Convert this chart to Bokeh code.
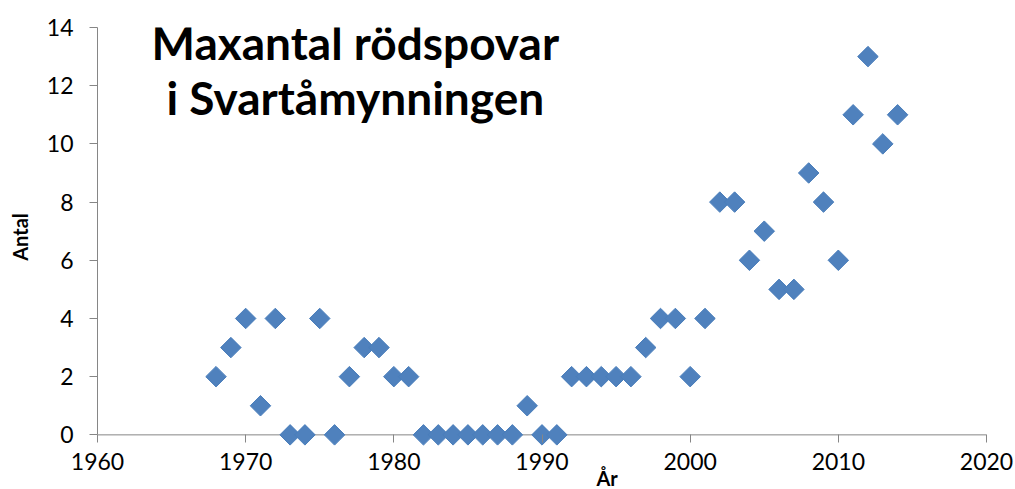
import math
from bokeh.plotting import figure
from bokeh.models import Range1d, FixedTicker, Label, Title, Span
from bokeh.embed import file_html
from bokeh.resources import INLINE

years = [1968, 1969, 1970, 1971, 1972, 1973, 1974, 1975, 1976, 1977, 1978, 1979,
         1980, 1981, 1982, 1983, 1984, 1985, 1986, 1987, 1988, 1989, 1990, 1991,
         1992, 1993, 1994, 1995, 1996, 1997, 1998, 1999, 2000, 2001, 2002, 2003,
         2004, 2005, 2006, 2007, 2008, 2009, 2010, 2011, 2012, 2013, 2014]
counts = [2, 3, 4, 1, 4, 0, 0, 4, 0, 2, 3, 3,
          2, 2, 0, 0, 0, 0, 0, 0, 0, 1, 0, 0,
          2, 2, 2, 2, 2, 3, 4, 4, 2, 4, 8, 8,
          6, 7, 5, 5, 9, 8, 6, 11, 13, 10, 11]
x_ticks = [1960, 1970, 1980, 1990, 2000, 2010, 2020]
y_ticks = [0, 2, 4, 6, 8, 10, 12, 14]
title_lines = ["Maxantal rödspovar", "i Svartåmynningen"]
x_title = "År"
y_title = "Antal"

FONT = "Lato"
AXIS_GRAY = "#868686"

# y range starts slightly below 0 so the diamonds at 0 are not clipped;
# the visible x-axis line is drawn at y = 0 with a Span.
p = figure(width=1015, height=489, output_backend="svg", toolbar_location=None,
           x_range=Range1d(1960, 2020), y_range=Range1d(-0.4, 14),
           min_border_left=97, min_border_right=29, min_border_top=27,
           min_border_bottom=43)
p.outline_line_color = None
p.xgrid.grid_line_color = None
p.ygrid.grid_line_color = None
p.background_fill_color = "white"
p.border_fill_color = "white"

for ax, ticks in ((p.xaxis[0], x_ticks), (p.yaxis[0], y_ticks)):
    ax.ticker = FixedTicker(ticks=ticks)
    ax.axis_line_color = AXIS_GRAY
    ax.major_tick_line_color = AXIS_GRAY
    ax.minor_tick_line_color = None
    ax.major_tick_out = 8
    ax.major_tick_in = 0
    ax.major_label_text_font = FONT
    ax.major_label_text_font_size = "23px"
    ax.major_label_text_color = "black"

# x axis sits at the frame bottom (y=-0.4); shift its ticks up to y=0
p.xaxis.axis_line_color = None
p.xaxis.major_tick_in = 12
p.xaxis.major_tick_out = -4
p.xaxis.major_label_standoff = 6
p.yaxis.bounds = (0, 14)
p.yaxis.major_label_standoff = 16

p.add_layout(Span(location=0, dimension="width", line_color=AXIS_GRAY,
                  line_width=1, level="underlay"))

p.yaxis.axis_label = y_title
p.yaxis.axis_label_text_font = FONT
p.yaxis.axis_label_text_font_style = "bold"
p.yaxis.axis_label_text_font_size = "20px"
p.yaxis.axis_label_text_color = "black"
p.yaxis.axis_label_standoff = 12

p.scatter(years, counts, marker="square", size=14.5, angle=math.pi / 4,
          fill_color="#4F81BD", line_color="#4A7EBB")

# Title inside plot area
p.add_layout(Label(x=1977.4, y=13.50, text=title_lines[0], text_align="center",
                   text_baseline="alphabetic", text_font=FONT, text_font_style="bold",
                   text_font_size="46px", text_color="black"))
p.add_layout(Label(x=1977.4, y=11.61, text=title_lines[1], text_align="center",
                   text_baseline="alphabetic", text_font=FONT, text_font_style="bold",
                   text_font_size="46px", text_color="black"))

# x-axis title, placed right of centre as in the reference
p.add_layout(Title(text=x_title, align="left", offset=499, standoff=-18,
                   text_font=FONT, text_font_style="bold", text_font_size="20px",
                   text_color="black"), "below")

open("out.html", "w").write(file_html(p, INLINE))
